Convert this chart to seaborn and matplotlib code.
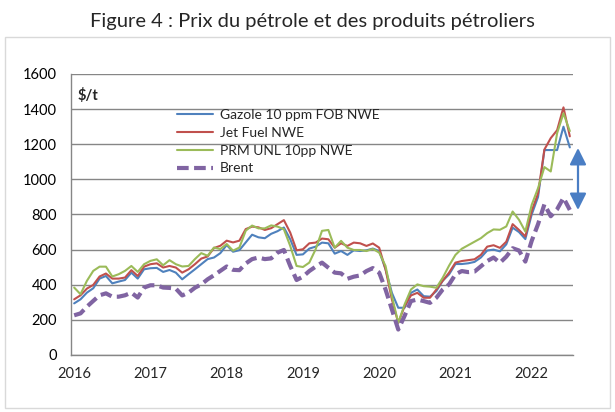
import numpy as np
import pandas as pd
import matplotlib
matplotlib.use("Agg")
import matplotlib.pyplot as plt
import seaborn as sns
from matplotlib.patches import Rectangle, FancyArrowPatch
from matplotlib.lines import Line2D

# ---- data (monthly, Jan 2016 - Jul 2022, $/t) ----
months = pd.date_range("2016-01-01", "2022-07-01", freq="MS")
year_labels = ["2016", "2017", "2018", "2019", "2020", "2021", "2022"]

gazole = [294, 317, 355, 380, 435, 450, 408, 418, 427, 469, 435, 488,
          494, 496, 473, 484, 469, 431, 460, 488, 517, 546, 555, 580,
          626, 588, 597, 641, 685, 670, 665, 690, 705, 726, 659, 570,
          573, 606, 617, 640, 636, 577, 592, 570, 596, 592, 596, 606,
          592, 488, 354, 269, 269, 354, 373, 335, 332, 364, 423, 459,
          518, 518, 522, 530, 555, 595, 600, 590, 630, 725, 700, 660,
          800, 900, 1167, 1167, 1167, 1300, 1182]

jet = [317, 340, 378, 399, 447, 464, 435, 435, 441, 483, 450, 503,
       517, 522, 498, 507, 498, 469, 488, 517, 549, 561, 609, 622,
       651, 641, 651, 717, 731, 727, 712, 722, 745, 768, 697, 596,
       602, 636, 640, 663, 659, 611, 636, 621, 640, 636, 621, 635,
       611, 488, 316, 183, 278, 339, 354, 326, 326, 373, 423, 469,
       526, 535, 540, 545, 570, 617, 625, 610, 645, 745, 712, 675,
       820, 920, 1170, 1235, 1280, 1410, 1245]

prm = [384, 346, 422, 479, 503, 503, 447, 460, 479, 507, 473, 517,
       536, 545, 511, 540, 517, 504, 507, 546, 580, 565, 612, 603,
       632, 594, 612, 708, 737, 721, 721, 738, 731, 716, 621, 507,
       501, 526, 602, 707, 712, 611, 650, 611, 598, 598, 592, 604,
       583, 507, 335, 183, 288, 373, 402, 392, 389, 383, 440, 509,
       570, 605, 625, 645, 665, 694, 715, 713, 732, 817, 770, 703,
       855, 950, 1070, 1045, 1263, 1376, 1275]

brent = [226, 237, 275, 308, 340, 351, 332, 332, 340, 355, 327, 384,
         397, 397, 384, 382, 378, 339, 355, 383, 402, 431, 454, 479,
         504, 485, 483, 521, 546, 555, 546, 550, 583, 598, 507, 427,
         446, 478, 503, 526, 497, 469, 465, 434, 446, 453, 478, 495,
         469, 373, 259, 145, 223, 307, 316, 307, 297, 326, 373, 402,
         459, 478, 472, 475, 505, 535, 555, 525, 560, 608, 595, 532,
         650, 745, 858, 790, 830, 895, 826]

series_names = ["Gazole 10 ppm FOB NWE", "Jet Fuel NWE", "PRM UNL 10pp NWE", "Brent"]
colors = ["#4F81BD", "#C0504D", "#9BBB59", "#8064A2"]

df = pd.DataFrame({"idx": np.arange(len(months)),
                   series_names[0]: gazole, series_names[1]: jet,
                   series_names[2]: prm, series_names[3]: brent})

sns.set_style("white")
plt.rcParams["font.family"] = ["Lato", "DejaVu Sans"]

fig = plt.figure(figsize=(6.15, 4.12), dpi=100)
ax = fig.add_axes([71/615, 1-355/412, (573-71)/615, (355-74)/412])

for name, col in zip(series_names, colors):
    if name == "Brent":
        sns.lineplot(data=df, x="idx", y=name, ax=ax, color=col, lw=3.0,
                     dashes=False, zorder=3)
        ax.lines[-1].set_dashes((2.8, 1.3))
    else:
        sns.lineplot(data=df, x="idx", y=name, ax=ax, color=col, lw=1.5, zorder=3)

n = len(months)
ax.set_xlim(-0.5, n - 0.5)
ax.set_ylim(0, 1600)
ax.set_xlabel("")
ax.set_ylabel("")

ax.set_yticks(np.arange(0, 1601, 200))
ax.yaxis.grid(True, color="#868686", lw=1.0)
ax.set_axisbelow(True)
ax.tick_params(axis="y", length=4, color="#868686", labelsize=10.5, pad=6,
               labelcolor="#000000")

ax.set_xticks(np.arange(0, n, 12))
ax.set_xticklabels(year_labels)
ax.set_xticks(np.arange(-0.5, n, 1), minor=True)
ax.tick_params(axis="x", which="major", length=0, labelsize=10.5, pad=9)
ax.tick_params(axis="x", which="minor", length=4, color="#868686", direction="out")

for s in ["top", "right"]:
    ax.spines[s].set_visible(False)
for s in ["left", "bottom"]:
    ax.spines[s].set_color("#868686")
    ax.spines[s].set_linewidth(1.0)

# legend
handles = [Line2D([], [], color=c, lw=(3.0 if nm == "Brent" else 1.5),
                  dashes=((2.8, 1.3) if nm == "Brent" else (None, None)))
           for nm, c in zip(series_names, colors)]
leg = ax.legend(handles, series_names, loc="upper left",
                bbox_to_anchor=(170/615, 1-102/412), bbox_transform=fig.transFigure,
                frameon=False, fontsize=10, handlelength=2.6, handletextpad=0.5,
                labelspacing=0.42, borderpad=0)

# unit label
fig.text(78/615, 1-95/412, "$/t", fontsize=10.5, fontweight="bold", va="center", ha="left")

# title
fig.text(312/615, 1-21/412, "Figure 4 : Prix du pétrole et des produits pétroliers",
         fontsize=14.5, ha="center", va="center")

# chart frame
fig.patches.append(Rectangle((5/615, 1-408/412), (610-5)/615, (408-37)/412,
                             transform=fig.transFigure, fill=False,
                             edgecolor="#d9d9d9", lw=1.0))

# double arrow
arr = FancyArrowPatch((578/615, 1-148/412), (578/615, 1-210/412),
                      transform=fig.transFigure,
                      arrowstyle="<|-|>,head_length=10,head_width=5",
                      color="#4A7EC4", lw=1.6, mutation_scale=1,
                      shrinkA=0, shrinkB=0)
fig.patches.append(arr)

fig.savefig("out.png", dpi=100)
